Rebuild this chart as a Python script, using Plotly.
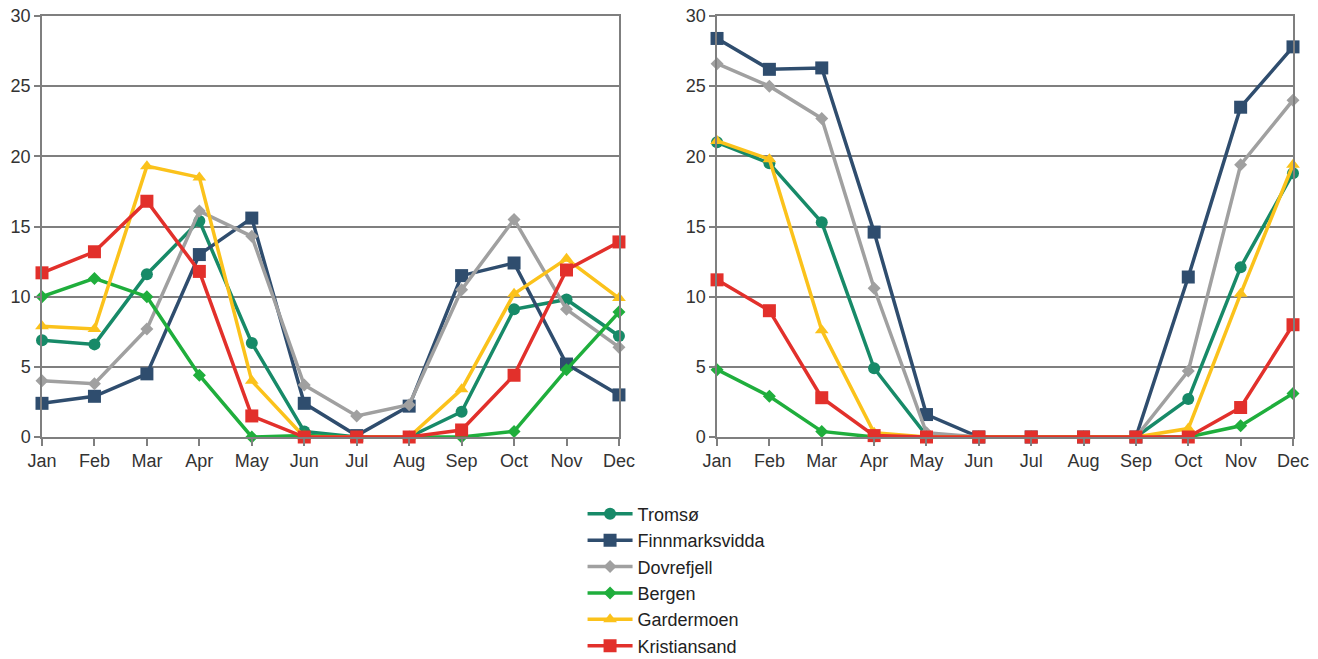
import plotly.graph_objects as go

months = ["Jan", "Feb", "Mar", "Apr", "May", "Jun", "Jul", "Aug", "Sep", "Oct", "Nov", "Dec"]
stations = ["Tromsø", "Finnmarksvidda", "Dovrefjell", "Bergen", "Gardermoen", "Kristiansand"]

# Left panel
left_tromso = [6.9, 6.6, 11.6, 15.4, 6.7, 0.4, 0.0, 0.0, 1.8, 9.1, 9.8, 7.2]
left_finnmarksvidda = [2.4, 2.9, 4.5, 13.0, 15.6, 2.4, 0.1, 2.2, 11.5, 12.4, 5.2, 3.0]
left_dovrefjell = [4.0, 3.8, 7.7, 16.1, 14.3, 3.7, 1.5, 2.3, 10.5, 15.5, 9.1, 6.4]
left_bergen = [10.0, 11.3, 10.0, 4.4, 0.0, 0.1, 0.0, 0.0, 0.0, 0.4, 4.8, 8.9]
left_gardermoen = [7.9, 7.7, 19.3, 18.5, 4.0, 0.0, 0.0, 0.0, 3.4, 10.2, 12.7, 9.9]
left_kristiansand = [11.7, 13.2, 16.8, 11.8, 1.5, 0.0, 0.0, 0.0, 0.5, 4.4, 11.9, 13.9]

# Right panel
right_tromso = [21.0, 19.5, 15.3, 4.9, 0.1, 0.0, 0.0, 0.0, 0.0, 2.7, 12.1, 18.8]
right_finnmarksvidda = [28.4, 26.2, 26.3, 14.6, 1.6, 0.0, 0.0, 0.0, 0.0, 11.4, 23.5, 27.8]
right_dovrefjell = [26.6, 25.0, 22.7, 10.6, 0.3, 0.0, 0.0, 0.0, 0.0, 4.7, 19.4, 24.0]
right_bergen = [4.8, 2.9, 0.4, 0.0, 0.0, 0.0, 0.0, 0.0, 0.0, 0.0, 0.8, 3.1]
right_gardermoen = [21.1, 19.8, 7.6, 0.3, 0.0, 0.0, 0.0, 0.0, 0.0, 0.6, 10.2, 19.4]
right_kristiansand = [11.2, 9.0, 2.8, 0.1, 0.0, 0.0, 0.0, 0.0, 0.0, 0.0, 2.1, 8.0]

colors = ["#178a68", "#2f4d6e", "#a0a0a0", "#1fae3c", "#fbc21b", "#e2302b"]
symbols = ["circle", "square", "diamond", "diamond", "triangle-up", "square"]
sizes = [12, 13, 10, 10, 12, 13]

left_series = [left_tromso, left_finnmarksvidda, left_dovrefjell, left_bergen, left_gardermoen, left_kristiansand]
right_series = [right_tromso, right_finnmarksvidda, right_dovrefjell, right_bergen, right_gardermoen, right_kristiansand]

fig = go.Figure()
for panel, (series_set, xa, ya) in enumerate([(left_series, "x", "y"), (right_series, "x2", "y2")]):
    for i, name in enumerate(stations):
        fig.add_trace(go.Scatter(
            x=months, y=series_set[i], name=name,
            mode="lines+markers",
            line=dict(color=colors[i], width=3.5),
            marker=dict(color=colors[i], symbol=symbols[i], size=sizes[i]),
            xaxis=xa, yaxis=ya,
            showlegend=(panel == 0),
            legendgroup=name,
            cliponaxis=False,
        ))

axis_font = dict(family="Liberation Sans, Arial, sans-serif", size=18, color="#333333")
grid_col = "#7f7f7f"

xcommon = dict(
    type="category", categoryorder="array", categoryarray=months,
    range=[0, 11], showgrid=False, showline=True, linecolor=grid_col, linewidth=1.5,
    mirror=True, ticks="outside", ticklen=7, tickcolor=grid_col, tickwidth=1.5,
    tickfont=axis_font, zeroline=False, fixedrange=True,
)
ycommon = dict(
    range=[0, 30], tickvals=[0, 5, 10, 15, 20, 25, 30], showgrid=True,
    gridcolor=grid_col, gridwidth=1.5, showline=True, linecolor=grid_col, linewidth=1.5,
    mirror=True, ticks="outside", ticklen=6, tickcolor=grid_col, tickwidth=1.5,
    tickfont=axis_font, zeroline=False, fixedrange=True,
)

fig.update_layout(
    width=1318, height=659,
    margin=dict(l=42, r=25, t=16, b=222, autoexpand=False),
    paper_bgcolor="white", plot_bgcolor="white",
    xaxis=dict(domain=[0, 0.4612], anchor="y", **xcommon),
    yaxis=dict(domain=[0, 1], anchor="x", **ycommon),
    xaxis2=dict(domain=[0.5396, 1], anchor="y2", **xcommon),
    yaxis2=dict(domain=[0, 1], anchor="x2", **ycommon),
    legend=dict(
        xref="container", yref="container",
        x=0.442, y=0.248, xanchor="left", yanchor="top",
        font=dict(family="Liberation Sans, Arial, sans-serif", size=18, color="#222222"),
        itemwidth=45, tracegroupgap=0, bgcolor="rgba(0,0,0,0)",
    ),
)

fig.write_html("out.html")
